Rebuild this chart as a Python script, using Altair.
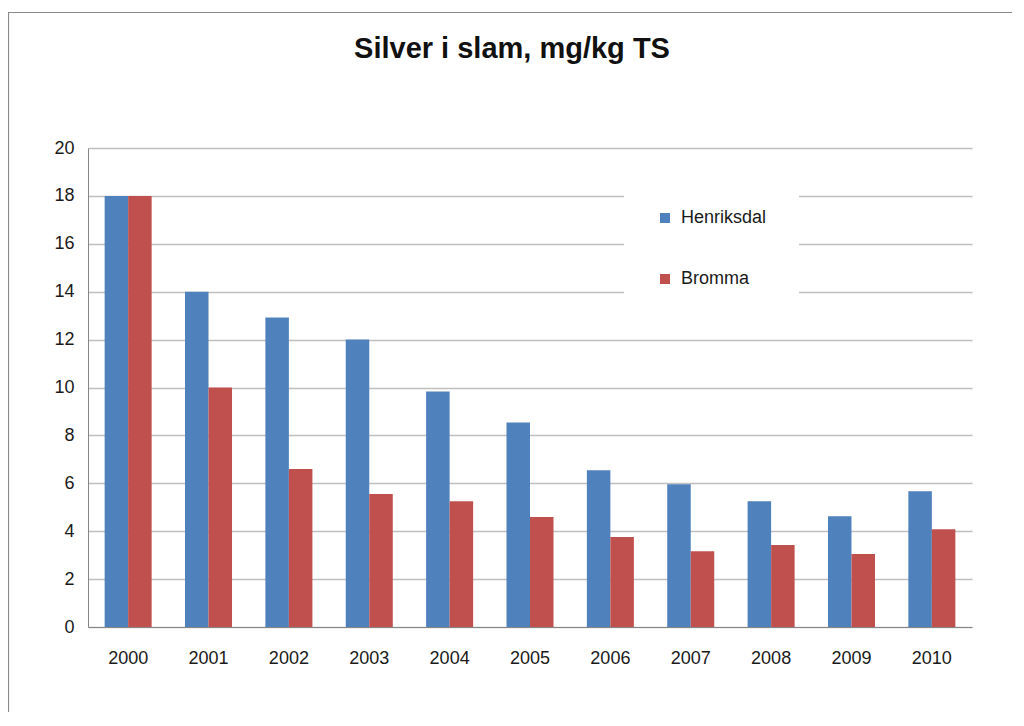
import altair as alt
import pandas as pd

years = ["2000", "2001", "2002", "2003", "2004", "2005", "2006", "2007", "2008", "2009", "2010"]
henriksdal = [18.0, 14.0, 12.92, 12.0, 9.83, 8.54, 6.54, 5.96, 5.25, 4.62, 5.67]
bromma = [18.0, 10.0, 6.6, 5.55, 5.25, 4.59, 3.76, 3.16, 3.42, 3.05, 4.08]
series = ["Henriksdal", "Bromma"]
colors = ["#4F81BD", "#C0504D"]
y_ticks = [0, 2, 4, 6, 8, 10, 12, 14, 16, 18, 20]

rows = []
for i, yr in enumerate(years):
    rows.append({"year": yr, "series": series[0], "value": henriksdal[i]})
    rows.append({"year": yr, "series": series[1], "value": bromma[i]})
df = pd.DataFrame(rows)

FONT = "Liberation Sans"

bars = alt.Chart(df).mark_bar().encode(
    x=alt.X("year:N", sort=years, title=None,
            scale=alt.Scale(paddingInner=0.415, paddingOuter=0.207),
            axis=alt.Axis(labelAngle=0, ticks=False, grid=False, domainColor="#868686",
                          labelPadding=22, labelFontSize=18, labelFont=FONT, labelColor="#1a1a1a")),
    xOffset=alt.XOffset("series:N", sort=series),
    y=alt.Y("value:Q", title=None, scale=alt.Scale(domain=[0, 20], nice=False),
            axis=alt.Axis(values=y_ticks, ticks=False, grid=True, gridColor="#bfbfbf", gridWidth=1.5,
                          domainColor="#868686", labelPadding=14, labelFontSize=18, labelFont=FONT,
                          labelColor="#1a1a1a")),
    color=alt.Color("series:N", sort=series,
                    scale=alt.Scale(domain=series, range=colors),
                    legend=alt.Legend(title=None, orient="none", legendX=536, legendY=29,
                                      fillColor="white", padding=32, rowPadding=43,
                                      symbolType="square", symbolSize=100, labelFontSize=18,
                                      labelFont=FONT, labelOffset=7, labelColor="#1a1a1a")),
)

border = alt.Chart(pd.DataFrame({"a": [0]})).mark_rect(
    fillOpacity=0, stroke="#8a8a8a", strokeWidth=1.2
).encode(
    x=alt.value(-79.5), x2=alt.value(1100), y=alt.value(-135.5), y2=alt.value(900)
)

chart = alt.layer(bars, border).properties(
    width=884, height=479,
    title=alt.Title("Silver i slam, mg/kg TS", fontSize=29, fontWeight="bold", font=FONT,
                    color="#111111", dx=-18, dy=52, offset=0, anchor="middle"),
    autosize=alt.AutoSizeParams(type="none"),
    padding={"left": 80, "top": 140, "right": 40, "bottom": 85},
).configure_view(stroke=None)

chart.save("out.html", embed_options={"renderer": "svg", "actions": False})
